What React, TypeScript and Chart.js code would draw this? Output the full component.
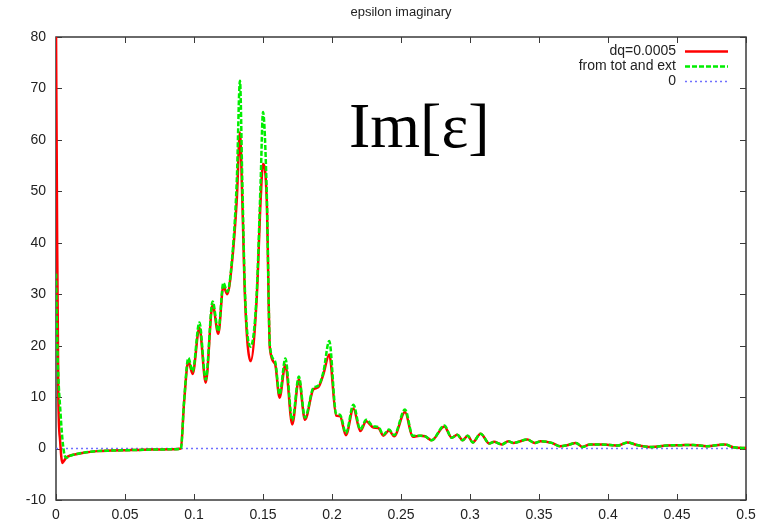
import React, { useEffect, useRef } from "react";
import { Chart, registerables } from "chart.js";

Chart.register(...registerables);

const chartTitle = "epsilon imaginary";
const annotationText = "Im[ε]";
const seriesLabels = ["dq=0.0005", "from tot and ext", "0"];

const xValues = [
  0.0, 0.0008, 0.0017, 0.003, 0.0046, 0.006, 0.0077, 0.01, 0.0126, 0.02,
  0.03, 0.04, 0.055, 0.07, 0.085, 0.0905, 0.0928, 0.0959, 0.099, 0.1039,
  0.1085, 0.1135, 0.1176, 0.1213, 0.1241, 0.1273, 0.131, 0.1333, 0.135, 0.137,
  0.141, 0.1454, 0.1483, 0.15, 0.1527, 0.155, 0.1587, 0.162, 0.1662, 0.1712,
  0.176, 0.1804, 0.1865, 0.19, 0.1937, 0.198, 0.203, 0.2058, 0.2101, 0.2155,
  0.2205, 0.2248, 0.23, 0.2336, 0.2372, 0.2413, 0.245, 0.2529, 0.2585, 0.2638,
  0.2674, 0.2722, 0.2814, 0.2867, 0.2908, 0.2947, 0.2983, 0.302, 0.3077, 0.314,
  0.3174, 0.323, 0.3278, 0.3314, 0.3415, 0.347, 0.3512, 0.3592, 0.3652, 0.3712,
  0.3768, 0.3814, 0.387, 0.3954, 0.4014, 0.4075, 0.414, 0.4208, 0.4316, 0.4425,
  0.4522, 0.4618, 0.4715, 0.4848, 0.4908, 0.5,
];

const redValues = [
  82, 42, 10, 1.5, -2.8, -2.3, -1.7, -1.4, -1.2, -0.8,
  -0.5, -0.4, -0.3, -0.2, -0.15, 0, 8.9, 17.0, 14.5, 23.5,
  12.8, 28, 22.3, 31.6, 30, 35.5, 48.4, 61.5, 48.4, 29,
  17, 29, 48.4, 55.3, 48.4, 19.5, 16.5, 9.9, 16.3, 4.7,
  13.4, 5.6, 11.5, 11.9, 14.4, 18.3, 6.4, 6.3, 2.6, 7.8,
  3.4, 5.3, 4.1, 4.0, 2.5, 3.5, 2.4, 7.1, 2.3, 2.5,
  2.4, 1.6, 4.3, 2.1, 2.7, 1.6, 2.5, 1.2, 2.9, 1.0,
  1.3, 0.8, 1.4, 1.1, 1.75, 1.1, 1.4, 1.1, 0.45, 0.7,
  1.1, 0.3, 0.8, 0.8, 0.7, 0.6, 1.2, 0.7, 0.3, 0.6,
  0.65, 0.7, 0.45, 0.8, 0.25, 0.1,
];

const greenValues = [
  34, 22, 14, 8, 2, -1.0, -1.8, -1.4, -1.2, -0.8,
  -0.5, -0.4, -0.3, -0.2, -0.15, 0, 9.2, 17.6, 15, 24.5,
  13.4, 28.6, 22.8, 32.2, 30.5, 36, 52, 71.5, 52, 30,
  19.8, 30, 52, 65.4, 50, 20, 17, 10.5, 17.5, 5.5,
  14, 6, 11.8, 12.2, 14.8, 20.9, 6.8, 6.6, 3, 8.5,
  3.7, 5.6, 4.3, 4.2, 2.7, 3.7, 2.6, 7.6, 2.5, 2.5,
  2.4, 1.6, 4.5, 2.1, 2.7, 1.6, 2.5, 1.2, 2.9, 1.0,
  1.3, 0.8, 1.4, 1.1, 1.75, 1.1, 1.4, 1.1, 0.45, 0.7,
  1.1, 0.3, 0.8, 0.8, 0.7, 0.6, 1.2, 0.7, 0.3, 0.6,
  0.65, 0.7, 0.45, 0.8, 0.25, 0.1,
];

const zeroX = [0, 0.5];
const zeroValues = [0, 0];

const xTicks = [0, 0.05, 0.1, 0.15, 0.2, 0.25, 0.3, 0.35, 0.4, 0.45, 0.5];
const xTickLabels = ["0", "0.05", "0.1", "0.15", "0.2", "0.25", "0.3", "0.35", "0.4", "0.45", "0.5"];
const yTicks = [-10, 0, 10, 20, 30, 40, 50, 60, 70, 80];
const yTickLabels = ["-10", "0", "10", "20", "30", "40", "50", "60", "70", "80"];

const SANS = "'Liberation Sans', Arial, sans-serif";

const framePlugin = {
  id: "gnuplotFrame",
  beforeDatasetsDraw(chart: any) {
    const { ctx, chartArea: a, scales } = chart;
    ctx.save();
    ctx.strokeStyle = "#3a3a3a";
    ctx.lineWidth = 1.5;
    ctx.strokeRect(a.left, a.top, a.right - a.left, a.bottom - a.top);
    ctx.lineWidth = 1;
    const L = 6;
    ctx.beginPath();
    for (const v of xTicks) {
      const px = Math.round(scales.x.getPixelForValue(v)) + 0.5;
      ctx.moveTo(px, a.bottom);
      ctx.lineTo(px, a.bottom - L);
      ctx.moveTo(px, a.top);
      ctx.lineTo(px, a.top + L);
    }
    for (const v of yTicks) {
      const py = Math.round(scales.y.getPixelForValue(v)) + 0.5;
      ctx.moveTo(a.left, py);
      ctx.lineTo(a.left + L, py);
      ctx.moveTo(a.right, py);
      ctx.lineTo(a.right - L, py);
    }
    ctx.stroke();
    ctx.restore();
  },
  afterDraw(chart: any) {
    const { ctx, chartArea: a } = chart;
    ctx.save();
    // title
    ctx.fillStyle = "#222";
    ctx.font = `13px ${SANS}`;
    ctx.textAlign = "center";
    ctx.textBaseline = "middle";
    ctx.fillText(chartTitle, (a.left + a.right) / 2, 12);
    // legend
    ctx.font = `14px ${SANS}`;
    ctx.textAlign = "right";
    chart.data.datasets.forEach((ds: any, i: number) => {
      const y = a.top + 14 + i * 15;
      ctx.fillStyle = "#222";
      ctx.fillText(ds.label, a.right - 70, y);
      ctx.beginPath();
      ctx.strokeStyle = ds.borderColor;
      ctx.lineWidth = ds.borderWidth;
      ctx.setLineDash(ds.borderDash || []);
      ctx.moveTo(a.right - 61, y + 0.5);
      ctx.lineTo(a.right - 18, y + 0.5);
      ctx.stroke();
      ctx.setLineDash([]);
    });
    // big annotation
    ctx.fillStyle = "#000";
    ctx.font = `64px 'Liberation Serif', 'Times New Roman', serif`;
    ctx.textAlign = "left";
    ctx.textBaseline = "alphabetic";
    ctx.fillText(annotationText, a.left + 293, a.top + 110);
    ctx.restore();
  },
};

export default function App() {
  const ref = useRef<HTMLCanvasElement | null>(null);
  useEffect(() => {
    document.body.style.margin = "0";
    const canvas = ref.current;
    if (!canvas) return;
    const toPts = (xs: number[], ys: number[]) => xs.map((x, i) => ({ x, y: ys[i] }));
    const chart = new Chart(canvas, {
      type: "line",
      data: {
        datasets: [
          {
            label: seriesLabels[0],
            data: toPts(xValues, redValues),
            borderColor: "#ff0000",
            borderWidth: 2.5,
            pointRadius: 0,
            cubicInterpolationMode: "monotone",
            order: 2,
          },
          {
            label: seriesLabels[1],
            data: toPts(xValues, greenValues),
            borderColor: "#00ee00",
            borderWidth: 2.5,
            borderDash: [5, 2],
            pointRadius: 0,
            cubicInterpolationMode: "monotone",
            order: 1,
          },
          {
            label: seriesLabels[2],
            data: toPts(zeroX, zeroValues),
            borderColor: "#7070ff",
            borderWidth: 1.5,
            borderDash: [2, 3],
            pointRadius: 0,
            order: 3,
          },
        ],
      },
      options: {
        responsive: false,
        animation: false,
        layout: { padding: { top: 37, right: 21, left: 0, bottom: 0 } },
        plugins: {
          legend: { display: false },
          title: { display: false },
          tooltip: { enabled: false },
        },
        scales: {
          x: {
            type: "linear",
            min: 0,
            max: 0.5,
            grid: { display: false, drawTicks: false },
            border: { display: false },
            afterBuildTicks: (s: any) => {
              s.ticks = xTicks.map((v) => ({ value: v }));
            },
            afterFit: (s: any) => {
              s.height = 23;
            },
            ticks: {
              autoSkip: false,
              maxRotation: 0,
              padding: 7,
              color: "#222",
              font: { family: SANS, size: 14 },
              callback: (v: any) => {
                const i = xTicks.findIndex((t) => Math.abs(t - Number(v)) < 1e-9);
                return i >= 0 ? xTickLabels[i] : "";
              },
            },
          },
          y: {
            type: "linear",
            min: -10,
            max: 80,
            grid: { display: false, drawTicks: false },
            border: { display: false },
            afterBuildTicks: (s: any) => {
              s.ticks = yTicks.map((v) => ({ value: v }));
            },
            afterFit: (s: any) => {
              s.width = 56;
            },
            ticks: {
              autoSkip: false,
              padding: 10,
              color: "#222",
              font: { family: SANS, size: 14 },
              callback: (v: any) => {
                const i = yTicks.findIndex((t) => Math.abs(t - Number(v)) < 1e-9);
                return i >= 0 ? yTickLabels[i] : "";
              },
            },
          },
        },
      },
      plugins: [framePlugin],
    } as any);
    return () => chart.destroy();
  }, []);
  return <canvas ref={ref} width={767} height={523} style={{ display: "block", width: 767, height: 523 }} />;
}
